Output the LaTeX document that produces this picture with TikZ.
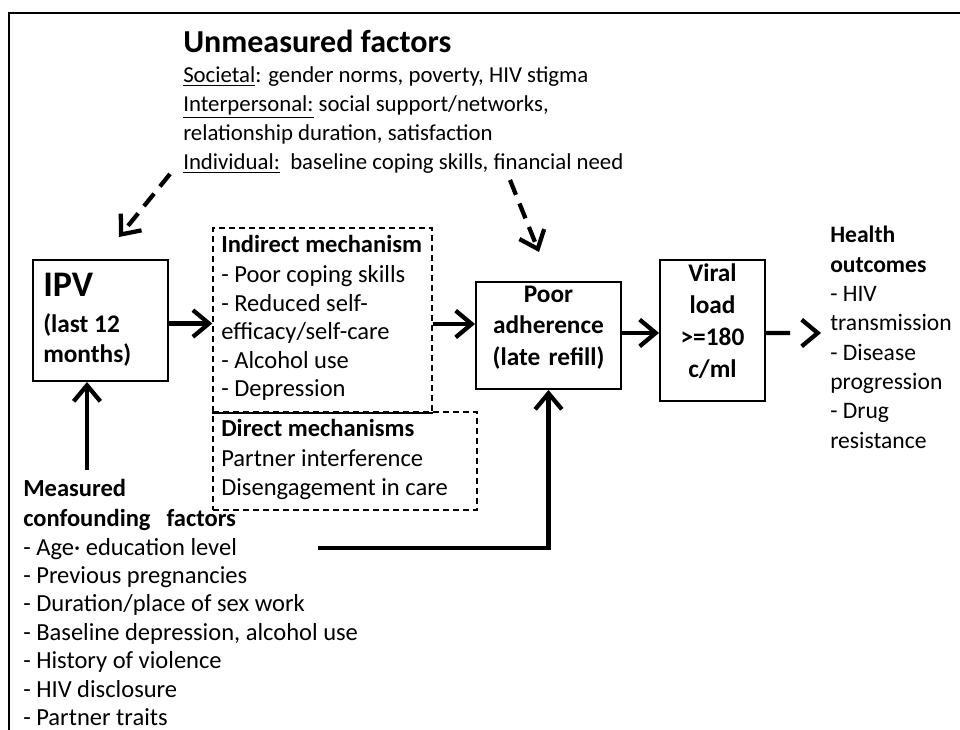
\documentclass[tikz,border=0pt]{standalone}
\usepackage{fontspec}
\setmainfont{Carlito}
\usetikzlibrary{arrows.meta,fit}
\begin{document}
\begin{tikzpicture}[x=0.75pt,y=-0.75pt,
  body/.style={inner sep=0pt, anchor=base west, font=\fontsize{18.4}{22}\selectfont},
  bodyb/.style={inner sep=0pt, anchor=base west, font=\fontsize{18.4}{22}\selectfont\bfseries},
  small/.style={inner sep=0pt, anchor=base west, font=\fontsize{17.1}{21}\selectfont},
  solidbox/.style={draw, line width=1.5pt, inner sep=0pt},
  dashbox/.style={draw, line width=1.1pt, dash pattern=on 4.5pt off 3pt, inner sep=0pt},
  arr/.style={line width=3.2pt, -{Straight Barb[length=12pt,width=20pt]}},
  darr/.style={arr, dash pattern=on 12pt off 7pt},
  harr/.style={arr, dash pattern=on 18pt off 40pt},
]
\useasboundingbox (0,0) rectangle (960,730);
% frame
\draw[line width=2pt] (9,732) -- (9,13) -- (962,13);

% unmeasured factors
\node[inner sep=0pt, anchor=base west, font=\fontsize{24}{28}\selectfont\bfseries] (title) at (183,53) {Unmeasured factors};
\node[small] (soc) at (183,83) {\underline{Societal}: gender norms, poverty, HIV stigma};
\node[small] (inter) at (183,112) {\underline{Interpersonal:} social support/networks,};
\node[small] (rel) at (183,141) {relationship duration, satisfaction};
\node[small] (indiv) at (183,170) {\underline{Individual:}\ \ baseline coping skills, financial need};

% boxes
\coordinate (a1) at (33,260); \coordinate (a2) at (168,381);
\node[solidbox, fit=(a1)(a2)] (ipv) {};
\node[inner sep=0pt, anchor=base west, font=\fontsize{27}{30}\selectfont\bfseries] (ipvt) at (43,297) {IPV};
\node[inner sep=0pt, anchor=base west, font=\fontsize{19}{22}\selectfont\bfseries] (ipv2) at (43,333) {(last 12};
\node[inner sep=0pt, anchor=base west, font=\fontsize{19}{22}\selectfont\bfseries] (ipv3) at (43,363) {months)};

\coordinate (b1) at (213,228); \coordinate (b2) at (432,412);
\node[dashbox, fit=(b1)(b2)] (ind) {};
\coordinate (c1) at (213,412); \coordinate (c2) at (477,510);
\node[dashbox, fit=(c1)(c2)] (dir) {};
\draw[line width=1.5pt] (ind.south west) -- (ind.south east);

\node[bodyb] (indh) at (221,253) {Indirect mechanism};
\foreach \t [count=\i] in {- Poor coping skills, - Reduced self-, efficacy/self-care, - Alcohol use, - Depression}
  \node[body] (indl\i) at (221,{254.5+28.5*\i}) {\t};

\node[bodyb] (dirh) at (221,437) {Direct mechanisms};
\node[body] (dir1) at (221,467) {Partner interference};
\node[body] (dir2) at (221,495) {Disengagement in care};

\coordinate (p1) at (476,282); \coordinate (p2) at (621,389);
\node[solidbox, fit=(p1)(p2), align=center, font=\fontsize{19}{23.6}\selectfont\bfseries] (poor) {Poor\\adherence\\(late refill)};

\coordinate (v1) at (660,260); \coordinate (v2) at (765,401);
\node[solidbox, fit=(v1)(v2), align=center, font=\fontsize{19}{24}\selectfont\bfseries] (viral) {Viral\\load\\>=180\\c/ml};

% health outcomes
\foreach \t [count=\i] in {Health, outcomes}
  \node[bodyb, font=\fontsize{17.7}{21}\selectfont\bfseries] (ho\i) at (830,{213.7+29.3*\i}) {\t};
\foreach \t [count=\i from 3] in {- HIV, transmission, - Disease, progression, - Drug, resistance}
  \node[body, font=\fontsize{17.7}{21}\selectfont] (ho\i) at (830,{213.7+29.3*\i}) {\t};

% measured confounding factors
\node[bodyb] (meas1) at (23,497) {Measured};
\node[bodyb] (meas2) at (23,527) {confounding\hspace{12pt}factors};
\foreach \t [count=\i] in {- Age\textperiodcentered{} education level, - Previous pregnancies, - Duration/place of sex work, {- Baseline depression, alcohol use}, - History of violence, - HIV disclosure, - Partner traits}
  \node[body] (ml\i) at (23,{526.6+28.4*\i}) {\t};

% connectors
\draw[arr] ([yshift=-2.25pt]ipv.east) -- ([yshift=-2.25pt]ipv.east -| ind.west);
\draw[arr] ([yshift=-3pt]ind.east) -- ([yshift=-3pt]ind.east -| poor.west);
\draw[arr] ([yshift=1.9pt]poor.east) -- ([yshift=1.9pt]poor.east -| viral.west);
\coordinate (hend) at (821,333);
\draw[harr] ([yshift=-1.9pt]viral.east) -- (hend);

\coordinate (mtop) at (87,470);
\draw[arr] (mtop) -- (ipv.south -| mtop);
\coordinate (ls) at (318,548);
\draw[line width=3.2pt, -{Straight Barb[length=12pt,width=20pt]}] (ls) -- (ls -| poor.south) -- (poor.south);

\coordinate (l1) at (170,174); \coordinate (l2) at (119,237);
\draw[darr] (l1) -- (l2);
\coordinate (r1) at (510,180); \coordinate (r2) at (539,252);
\draw[darr] (r1) -- (r2);
\end{tikzpicture}
\end{document}
